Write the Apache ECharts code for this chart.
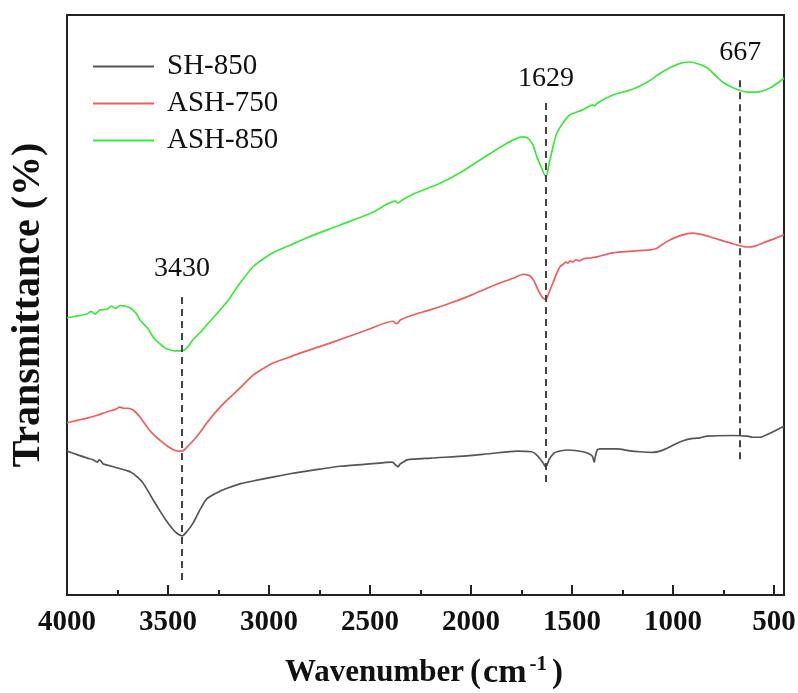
<!DOCTYPE html>
<html>
<head>
<meta charset="utf-8">
<title>FTIR spectra</title>
<script src="https://cdn.jsdelivr.net/npm/echarts@6/dist/echarts.min.js"></script>
<style>
  html, body { margin: 0; padding: 0; background: #fff; }
  #chart { width: 798px; height: 693px; }
</style>
</head>
<body>
<div id="chart"></div>
<script>
// FTIR spectra: [wavenumber (cm-1), transmittance (a.u.)]
const sh850 = [
  [4000,24.8],[3950,24.2],[3900,23.6],[3870,23.3],[3851,22.9],[3840,23.3],[3820,22.6],[3800,22.4],
  [3750,21.9],[3700,21.4],[3680,21.1],[3660,20.6],[3630,19.6],[3600,18.0],[3570,16.2],[3540,14.5],
  [3510,12.9],[3480,11.5],[3455,10.6],[3430,10.2],[3405,11.0],[3376,12.4],[3340,14.8],[3307,16.6],
  [3260,17.6],[3208,18.4],[3140,19.2],[3059,19.8],[2970,20.4],[2896,20.9],[2846,21.2],[2750,21.7],
  [2648,22.2],[2500,22.6],[2390,22.9],[2372,22.4],[2361,22.1],[2350,22.6],[2330,23.0],[2317,23.3],
  [2200,23.6],[2020,24.0],[1900,24.4],[1772,24.8],[1700,24.7],[1670,24.0],[1645,22.9],[1629,22.1],
  [1612,23.4],[1590,24.4],[1574,24.7],[1525,25.0],[1445,24.7],[1400,24.0],[1390,22.9],[1384,23.9],
  [1375,25.0],[1361,25.2],[1277,25.2],[1220,24.9],[1163,24.7],[1100,24.6],[1064,24.8],[1029,25.3],
  [990,26.0],[950,26.6],[900,27.0],[866,27.1],[831,27.4],[700,27.5],[633,27.4],[604,27.2],
  [569,27.2],[520,27.9],[450,29.1]
];
const ash750 = [
  [4000,29.7],[3950,30.1],[3900,30.5],[3850,31.0],[3800,31.6],[3760,32.0],[3738,32.4],[3720,32.2],
  [3700,32.2],[3673,31.9],[3639,30.7],[3600,28.8],[3570,27.6],[3540,26.7],[3500,25.6],[3465,24.9],
  [3440,24.8],[3430,24.8],[3406,25.5],[3370,26.8],[3340,28.1],[3307,29.7],[3260,31.7],[3208,33.6],
  [3143,35.7],[3079,37.9],[3030,39.0],[2980,40.0],[2900,41.0],[2846,41.7],[2683,43.6],[2515,45.7],
  [2386,47.2],[2372,46.8],[2362,46.9],[2350,47.4],[2302,48.1],[2200,49.2],[2104,50.3],[2020,51.4],
  [1940,52.6],[1856,53.8],[1790,54.6],[1742,55.3],[1720,55.2],[1708,55.0],[1690,54.3],[1668,52.6],
  [1650,51.5],[1629,50.9],[1612,52.3],[1594,53.8],[1575,55.5],[1559,56.6],[1544,57.0],[1530,57.4],
  [1520,57.2],[1510,57.6],[1495,57.4],[1480,57.8],[1465,57.6],[1440,58.0],[1410,58.1],[1376,58.3],
  [1297,59.0],[1200,59.3],[1114,59.5],[1079,59.8],[1050,60.5],[1015,61.2],[960,62.0],[901,62.4],
  [850,62.1],[802,61.6],[717,60.7],[633,60.0],[600,60.1],[554,60.7],[500,61.4],[450,62.1]
];
const ash850 = [
  [4000,47.8],[3950,48.1],[3900,48.5],[3880,48.9],[3860,48.4],[3840,49.1],[3800,49.3],[3780,49.8],
  [3760,49.4],[3738,49.9],[3700,49.7],[3673,49.1],[3650,48.2],[3639,47.4],[3600,46.0],[3574,44.5],
  [3540,43.3],[3505,42.4],[3465,42.1],[3430,42.1],[3406,42.6],[3376,44.0],[3340,45.3],[3307,46.6],
  [3243,49.1],[3200,50.9],[3143,53.8],[3079,56.6],[3030,57.9],[2980,59.0],[2896,60.3],[2812,61.6],
  [2648,63.8],[2485,66.0],[2376,67.9],[2361,67.6],[2340,68.1],[2287,69.1],[2153,71.0],[2054,72.8],
  [1955,75.0],[1822,77.9],[1760,78.9],[1742,79.0],[1720,78.8],[1708,78.4],[1693,77.6],[1673,75.5],
  [1650,73.6],[1629,72.1],[1609,75.0],[1590,77.8],[1574,79.7],[1540,81.6],[1510,82.8],[1450,83.6],
  [1396,84.5],[1386,84.3],[1376,84.8],[1297,86.2],[1200,87.2],[1128,88.4],[1070,89.8],[1015,90.9],
  [960,91.7],[916,91.9],[870,91.5],[831,90.9],[790,89.6],[752,88.4],[700,87.4],[633,86.7],
  [584,86.7],[520,87.4],[450,89.1]
];

const seriesNames = ['SH-850', 'ASH-750', 'ASH-850'];
const seriesColors = ['#555555', '#f25c5c', '#3de83d'];

// characteristic bands and the vertical extent of their guide lines
const peakWn = [3430, 1629, 667];
const peakLow = [2.6, 19.5, 23.4];
const peakHigh = [51.7, 85.3, 89.3];
const peakLabelGap = [12, 8, 10];

const majorTicks = [4000, 3500, 3000, 2500, 2000, 1500, 1000, 500];
const minorTicks = [3750, 3250, 2750, 2250, 1750, 1250, 750];

const serif = '"Liberation Serif", "Times New Roman", serif';

const chart = echarts.init(document.getElementById('chart'), null, { renderer: 'canvas' });

const peakLines = peakWn.map((w, i) => [
  { coord: [w, peakLow[i]] },
  {
    coord: [w, peakHigh[i]],
    label: { formatter: String(w), distance: peakLabelGap[i] }
  }
]);

function lineSeries(name, data, color, extra) {
  return Object.assign({
    name: name,
    type: 'line',
    data: data,
    symbol: 'none',
    showSymbol: false,
    smooth: 0.25,
    lineStyle: { color: color, width: 1.7 },
    itemStyle: { color: color },
    z: 3
  }, extra || {});
}

chart.setOption({
  animation: false,
  backgroundColor: '#fff',
  grid: {
    left: 67, right: 14, top: 15, bottom: 98,
    containLabel: false,
    outerBoundsMode: 'none',
    show: true, borderColor: '#222', borderWidth: 2, backgroundColor: 'transparent'
  },
  legend: {
    orient: 'vertical',
    left: 88,
    top: 43,
    icon: 'rect',
    itemWidth: 61,
    itemHeight: 2,
    itemGap: 0,
    data: seriesNames,
    textStyle: {
      fontFamily: serif, fontSize: 29, color: '#111',
      lineHeight: 37, padding: [0, 0, 0, 8]
    }
  },
  xAxis: [
    {
      type: 'value',
      min: 450, max: 4000,
      inverse: true,
      axisLine: { show: true, lineStyle: { color: '#222', width: 2 } },
      axisTick: { show: true, inside: true, length: 10, customValues: majorTicks,
        lineStyle: { color: '#222', width: 2 } },
      axisLabel: { show: true, customValues: majorTicks, margin: 13,
        formatter: v => String(v),
        fontFamily: serif, fontWeight: 'bold', fontSize: 29, color: '#111' },
      splitLine: { show: false }
    },
    {
      type: 'value',
      min: 450, max: 4000,
      inverse: true,
      position: 'bottom',
      axisLine: { show: false },
      axisTick: { show: true, inside: true, length: 5, customValues: minorTicks,
        lineStyle: { color: '#222', width: 2 } },
      axisLabel: { show: false },
      splitLine: { show: false }
    }
  ],
  yAxis: {
    type: 'value',
    min: 0, max: 100,
    axisLine: { show: false },
    axisTick: { show: false },
    axisLabel: { show: false },
    splitLine: { show: false }
  },
  graphic: [
    {
      type: 'text',
      x: 424, y: 673,
      style: {
        text: '{t|Wavenumber}{p|(}{c|cm}{s|-1}{q|)}',
        align: 'center',
        verticalAlign: 'middle',
        rich: {
          t: { fontFamily: serif, fontWeight: 'bold', fontSize: 31, fill: '#111' },
          p: { fontFamily: serif, fontWeight: 'bold', fontSize: 33, fill: '#111', padding: [0, 2, 0, 6] },
          q: { fontFamily: serif, fontWeight: 'bold', fontSize: 33, fill: '#111', padding: [0, 0, 0, 3] },
          c: { fontFamily: serif, fontWeight: 'bold', fontSize: 34, fill: '#111' },
          s: { fontFamily: serif, fontWeight: 'bold', fontSize: 21, fill: '#111', padding: [0, 2, 16, 3] }
        }
      }
    },
    {
      type: 'text',
      x: 29, y: 305,
      rotation: Math.PI / 2,
      style: {
        text: 'Transmittance (%)',
        fontFamily: serif, fontWeight: 'bold', fontSize: 40, fill: '#111',
        align: 'center', verticalAlign: 'middle'
      }
    }
  ],
  series: [
    lineSeries(seriesNames[0], sh850, seriesColors[0], {
      markLine: {
        silent: true,
        symbol: ['none', 'none'],
        animation: false,
        lineStyle: { type: [7, 5], color: '#444', width: 2 },
        label: { show: true, position: 'end', fontFamily: serif, fontSize: 28, color: '#111' },
        emphasis: { disabled: true },
        data: peakLines
      }
    }),
    lineSeries(seriesNames[1], ash750, seriesColors[1]),
    lineSeries(seriesNames[2], ash850, seriesColors[2])
  ]
});
</script>
</body>
</html>
